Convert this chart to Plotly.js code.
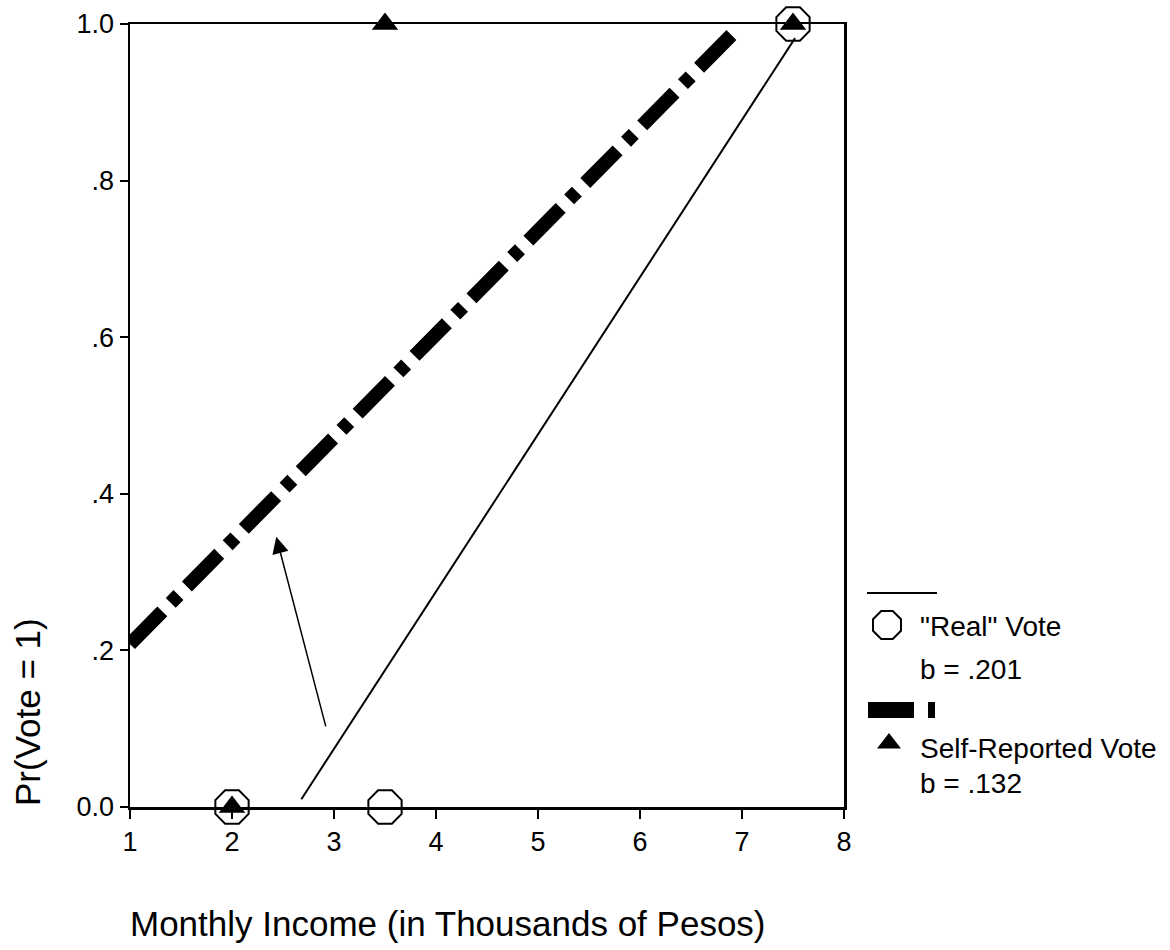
<!DOCTYPE html>
<html><head><meta charset="utf-8">
<script src="https://cdn.plot.ly/plotly-3.0.1.min.js"></script>
<style>html,body{margin:0;padding:0;background:#fff}</style>
</head><body>
<div id="chart" style="width:1170px;height:950px"></div>
<script>
// ---- data ----
const realX = [2, 3.5, 7.5];
const realY = [0, 0, 1];
const selfX = [2, 3.5, 7.5];
const selfY = [0, 1, 1];
const realFitX = [2.68, 7.52];
const realFitY = [0.01, 0.982];
const selfFitX = [1, 6.95];
const selfFitY = [0.208, 0.993];
const arrowFrom = [2.923, 0.101];
const arrowTo = [2.434, 0.345];
const xTicks = [1, 2, 3, 4, 5, 6, 7, 8];
const yTickVals = [0, 0.2, 0.4, 0.6, 0.8, 1.0];
const yTickText = ['0.0', '.2', '.4', '.6', '.8', '1.0'];
const seriesNames = ['"Real" Vote', 'Self-Reported Vote'];
const slopeLabels = ['b = .201', 'b = .132'];
const xTitle = 'Monthly Income (in Thousands of Pesos)';
const yTitle = 'Pr(Vote = 1)';

// ---- layout helpers ----
const W = 1170, H = 950;
const M = {l: 130, r: 326, t: 24, b: 143};
const PW = W - M.l - M.r, PH = H - M.t - M.b;
const px2x = p => (p - M.l) / PW;
const py2y = p => (H - M.b - p) / PH;
const FONT = 'Liberation Sans, Arial, sans-serif';

function octPath(w) {
  const r = w / 1.84, a = (r * 0.92).toFixed(2), b = (r * 0.38).toFixed(2);
  return `M-${b},-${a}H${b}L${a},-${b}V${b}L${b},${a}H-${b}L-${a},${b}V-${b}Z`;
}

const traces = [
  {x: selfFitX, y: selfFitY, mode: 'lines', cliponaxis: false,
   line: {color: '#000', width: 14, dash: '46px,12px,11px,12px'}},
  {x: realFitX, y: realFitY, mode: 'lines', cliponaxis: false,
   line: {color: '#000', width: 2}},
  {x: realX, y: realY, mode: 'markers', name: seriesNames[0], cliponaxis: false,
   marker: {symbol: 'octagon-open', size: 36, color: '#000', line: {color: '#000', width: 2}}},
  {x: selfX, y: selfY, mode: 'markers', name: seriesNames[1], cliponaxis: false,
   marker: {symbol: 'triangle-up', size: 23, color: '#000', line: {width: 0}}}
];

const textAnn = (t, px, py, extra) => Object.assign({
  text: t, xref: 'paper', yref: 'paper', x: px2x(px), y: py2y(py),
  xanchor: 'left', yanchor: 'middle', showarrow: false,
  font: {family: FONT, size: 28, color: '#000'}
}, extra || {});

const layout = {
  width: W, height: H,
  margin: M,
  paper_bgcolor: '#fff', plot_bgcolor: '#fff',
  showlegend: false, hovermode: false,
  font: {family: FONT, color: '#000'},
  xaxis: {
    range: [1, 8], tickvals: xTicks, ticktext: xTicks.map(String),
    ticks: 'outside', ticklen: 9, tickwidth: 2, tickcolor: '#000',
    showline: true, linewidth: 2.5, linecolor: '#000', mirror: true,
    showgrid: false, zeroline: false,
    tickfont: {family: FONT, size: 27, color: '#000'}
  },
  yaxis: {
    range: [0, 1], tickvals: yTickVals, ticktext: yTickText,
    ticks: 'outside', ticklen: 8, tickwidth: 2, tickcolor: '#000',
    showline: true, linewidth: 2.5, linecolor: '#000', mirror: true,
    showgrid: false, zeroline: false,
    tickfont: {family: FONT, size: 27, color: '#000'}
  },
  annotations: [
    {x: arrowTo[0], y: arrowTo[1], ax: arrowFrom[0], ay: arrowFrom[1],
     xref: 'x', yref: 'y', axref: 'x', ayref: 'y', text: '',
     showarrow: true, arrowhead: 2, arrowsize: 2.2, arrowwidth: 1.5, arrowcolor: '#000'},
    textAnn(yTitle, 27, 712, {xanchor: 'center', textangle: -90, font: {family: FONT, size: 35, color: '#000'}}),
    textAnn(xTitle, 128, 923, {font: {family: FONT, size: 35, color: '#000'}}),
    textAnn(seriesNames[0], 918, 626),
    textAnn(slopeLabels[0], 918, 669),
    textAnn(seriesNames[1], 918, 748),
    textAnn(slopeLabels[1], 918, 783)
  ],
  shapes: [
    {type: 'line', xref: 'paper', yref: 'paper', x0: px2x(867), x1: px2x(937),
     y0: py2y(593), y1: py2y(593), line: {color: '#000', width: 2}},
    {type: 'rect', xref: 'paper', yref: 'paper', x0: px2x(868), x1: px2x(914),
     y0: py2y(718), y1: py2y(702), fillcolor: '#000', line: {width: 0}},
    {type: 'rect', xref: 'paper', yref: 'paper', x0: px2x(928), x1: px2x(935),
     y0: py2y(718), y1: py2y(702), fillcolor: '#000', line: {width: 0}},
    {type: 'path', xref: 'paper', yref: 'paper', xsizemode: 'pixel', ysizemode: 'pixel',
     xanchor: px2x(887), yanchor: py2y(625), path: octPath(28),
     line: {color: '#000', width: 2}, fillcolor: 'rgba(0,0,0,0)'},
    {type: 'path', xref: 'paper', yref: 'paper', xsizemode: 'pixel', ysizemode: 'pixel',
     xanchor: px2x(889), yanchor: py2y(741), path: 'M0,8L-12,-7.5L12,-7.5Z',
     line: {width: 0}, fillcolor: '#000'}
  ]
};

Plotly.newPlot('chart', traces, layout, {displayModeBar: false, staticPlot: true});
</script>
</body></html>
